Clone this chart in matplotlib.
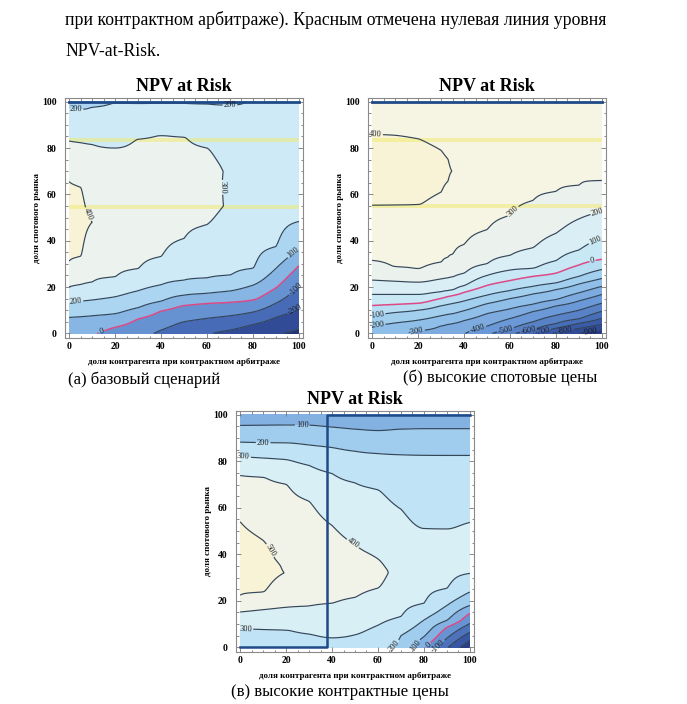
import matplotlib

matplotlib.use("Agg")
import matplotlib.pyplot as plt
import numpy as np
from matplotlib.colors import LinearSegmentedColormap, Normalize
from matplotlib.ticker import MultipleLocator

plt.rcParams["font.family"] = ["Liberation Serif", "DejaVu Serif"]

TEXT_LINE1 = "при контрактном арбитраже). Красным отмечена нулевая линия уровня"
TEXT_LINE2 = "NPV-at-Risk."
TITLE = "NPV at Risk"
XLABEL = "доля контрагента при контрактном арбитраже"
YLABEL = "доля спотового рынка"
CAPTIONS = ["(а) базовый сценарий", "(б) высокие спотовые цены",
            "(в) высокие контрактные цены"]
TICKS = [0, 20, 40, 60, 80, 100]

# NPV-at-Risk, column by column: for each x a list of (y, npv)
a_x = [0, 5, 10, 20, 30, 40, 50, 60, 70, 80, 90, 100]
a_cols = [
    [(0, 15), (6.9, 100), (13.4, 200), (20.1, 300), (31.2, 400), (48, 445), (65.5, 400), (83, 300), (96.8, 200), (100, 150)],
    [(0, 10), (7.2, 100), (13.9, 200), (21.1, 300), (33.3, 400), (48, 425), (63, 400), (82.3, 300), (96.7, 200), (100, 155)],
    [(0, 6), (7.6, 100), (14.4, 200), (22.2, 300), (48, 400), (81.5, 300), (97.6, 200), (100, 160)],
    [(0, -40), (2.6, 0), (8.5, 100), (15.8, 200), (24.5, 300), (50, 370), (80, 300), (99.4, 200), (100, 185)],
    [(0, -70), (6.2, 0), (11.1, 100), (18.4, 200), (28, 300), (55, 360), (83.8, 300), (100, 195)],
    [(0, -115), (1.4, -100), (9.6, 0), (13.9, 100), (21, 200), (33.2, 300), (60, 350), (85.4, 300), (100, 195)],
    [(0, -160), (5, -100), (12, 0), (16.5, 100), (23, 200), (41, 300), (62, 330), (84.7, 300), (100, 195)],
    [(0, -190), (6.5, -100), (12.9, 0), (17.3, 100), (24, 200), (47, 300), (55, 318), (72, 318), (80, 300), (99, 200), (100, 180)],
    [(0, -230), (1.4, -200), (7.6, -100), (13.4, 0), (18.3, 100), (25.2, 200), (55, 290), (70, 290), (98.5, 200), (100, 185)],
    [(0, -260), (3.8, -200), (9.2, -100), (14.4, 0), (20.8, 100), (28.1, 200), (65, 270), (100, 205)],
    [(0, -290), (6.9, -200), (13, -100), (19.6, 0), (28, 100), (37.5, 200), (70, 260), (100, 210)],
    [(0, -320), (11, -200), (20.6, -100), (29.2, 0), (36.4, 100), (48.3, 200), (75, 250), (100, 210)],
]
a_levels = [-400, -300, -200, -100, 0, 100, 200, 300, 400, 500]

b_x = [0, 10, 20, 30, 33, 35, 40, 50, 60, 70, 80, 90, 100]
b_cols = [
    [(0, -270), (3.2, -200), (7.8, -100), (12, 0), (16.8, 100), (23, 200), (31.5, 300), (55.3, 400), (70, 440), (86, 400), (100, 360)],
    [(0, -285), (4.5, -200), (9, -100), (12.5, 0), (16.8, 100), (22.5, 200), (28.8, 300), (55.4, 400), (70, 435), (85.5, 400), (100, 360)],
    [(0, -310), (1.05, -300), (5.7, -200), (10, -100), (13, 0), (16.8, 100), (22.1, 200), (28, 300), (55.6, 400), (70, 425), (84, 400), (100, 355)],
    [(0, -330), (3.2, -300), (7.6, -200), (11.9, -100), (15.1, 0), (18, 100), (23.5, 200), (30.8, 300), (61, 400), (70, 412), (79, 400), (100, 352)],
    [(0, -342), (3.9, -300), (8.2, -200), (12.5, -100), (15.9, 0), (18.5, 100), (24, 200), (32.9, 300), (65.7, 400), (70, 405), (75.2, 400), (100, 351)],
    [(0, -350), (4.2, -300), (8.5, -200), (12.9, -100), (16.3, 0), (18.8, 100), (24.4, 200), (34.2, 300), (70, 399), (100, 350)],
    [(0, -395), (5.5, -300), (9.8, -200), (14, -100), (17.7, 0), (20.6, 100), (26, 200), (38.4, 300), (70, 385), (100, 348)],
    [(0, -480), (3.1, -400), (8.5, -300), (12.8, -200), (16.5, -100), (20.7, 0), (25, 100), (30.1, 200), (44.8, 300), (75, 370), (100, 345)],
    [(0, -570), (1.9, -500), (6.4, -400), (10.6, -300), (15, -200), (18.5, -100), (22.8, 0), (27.3, 100), (33.7, 200), (51, 300), (80, 355), (100, 340)],
    [(0, -700), (1.5, -600), (5, -500), (9.4, -400), (12.6, -300), (17, -200), (20.3, -100), (24.6, 0), (28.1, 100), (37, 200), (57.4, 300), (85, 345), (100, 335)],
    [(0, -815), (2.2, -700), (4.2, -600), (7.8, -500), (11.8, -400), (14.6, -300), (18.9, -200), (21.8, -100), (26, 0), (31.4, 100), (43.2, 200), (61.3, 300), (90, 340), (100, 332)],
    [(0, -900), (2.1, -800), (4.3, -700), (6.3, -600), (10, -500), (14, -400), (17.5, -300), (21.3, -200), (24.6, -100), (29.5, 0), (36, 100), (49.4, 200), (64, 300), (100, 330)],
    [(0, -990), (1.5, -900), (3.9, -800), (6.5, -700), (9.5, -600), (13, -500), (16.8, -400), (20.3, -300), (23.7, -200), (27.6, -100), (32, 0), (41.2, 100), (52.7, 200), (66, 300), (100, 330)],
]
b_levels = [-1000, -900, -800, -700, -600, -500, -400, -300, -200, -100, 0, 100, 200, 300, 400, 500]

c_x = [0, 10, 20, 30, 40, 50, 60, 70, 80, 90, 100]
c_cols = [
    [(0, 250), (8, 300), (15.2, 400), (22.4, 500), (38, 540), (54, 500), (73.9, 400), (82, 300), (88.2, 200), (95.4, 100), (100, 35)],
    [(0, 260), (7.7, 300), (16.2, 400), (23.8, 500), (35, 530), (46, 500), (73.1, 400), (81.4, 300), (88, 200), (95.5, 100), (100, 35)],
    [(0, 265), (7.4, 300), (17.2, 400), (32, 497), (70.1, 400), (80.7, 300), (87.9, 200), (95.6, 100), (100, 35)],
    [(0, 270), (5.7, 300), (17.8, 400), (38, 470), (62.8, 400), (78.2, 300), (87, 200), (95.5, 100), (100, 35)],
    [(0, 280), (4.1, 300), (19, 400), (36, 450), (52.4, 400), (74.7, 300), (85.9, 200), (94.7, 100), (100, 35)],
    [(0, 272), (5.4, 300), (21.5, 400), (33, 430), (44.1, 400), (70.7, 300), (84.3, 200), (93.8, 100), (100, 35)],
    [(0, 225), (9.5, 300), (25.5, 400), (32, 420), (38, 400), (67.7, 300), (83.3, 200), (93.2, 100), (100, 35)],
    [(0, 180), (5, 200), (13.3, 300), (33, 370), (59.4, 300), (82.8, 200), (93.8, 100), (100, 35)],
    [(0, 15), (4.6, 100), (11.7, 200), (19, 300), (36, 345), (51.1, 300), (82.6, 200), (94, 100), (100, 35)],
    [(0, -190), (3.9, -100), (8.6, 0), (11.6, 100), (18, 200), (25.4, 300), (40, 340), (50.9, 300), (82.5, 200), (94, 100), (100, 35)],
    [(0, -380), (3, -300), (6.5, -200), (10.3, -100), (14.6, 0), (18, 100), (23.8, 200), (31.8, 300), (42, 345), (53.7, 300), (82.5, 200), (94, 100), (100, 35)],
]
c_levels = [-400, -300, -200, -100, 0, 100, 200, 300, 400, 500, 600]

# contour label spots (x, y) as printed on the scans
a_labels = [(3, 96.9), (70, 98.4), (63.5, 63), (9.8, 52), (3, 13.6), (14, 0.8),
            (97, 35.5), (98, 19.5), (98, 10.5)]
b_labels = [(1.5, 86), (62, 52), (98, 52.5), (97, 40.5), (96, 31), (2, 8), (2, 3.4),
            (19, 1.3), (46, 1.7), (58, 1.7), (68, 1.4), (74, 1.2), (84, 1), (95, 1)]
c_labels = [(27, 95.7), (10, 88), (1.5, 82), (49, 44.5), (12, 41), (2.5, 8),
            (66, 1.8), (76, 1), (82, 1), (86, 0.8)]

# yellow marker streaks on the scan (y of each streak)
a_streaks = [83.6, 54.5]
b_streaks = [83.4, 54.9]
# blue break line in panel (в): x where it jumps
c_break = 38

cmap = LinearSegmentedColormap.from_list("mma", [
    (0.0, "#22337a"), (0.2, "#3d5fae"), (0.4, "#6f9dd9"), (0.55, "#97c6ec"),
    (0.68, "#bfe3f5"), (0.78, "#d6eef7"), (0.86, "#eaf2ef"), (0.92, "#f5f4e4"),
    (1.0, "#f8f3d6")])


def pchip(xk, yk, xf):
    xk = np.asarray(xk, float)
    yk = np.asarray(yk, float)
    h = np.diff(xk)
    d = np.diff(yk, axis=0) / h[:, None]
    m = np.zeros_like(yk)
    m[0], m[-1] = d[0], d[-1]
    for k in range(1, len(xk) - 1):
        a, b = d[k - 1], d[k]
        w1, w2 = 2 * h[k] + h[k - 1], h[k] + 2 * h[k - 1]
        with np.errstate(divide="ignore", invalid="ignore"):
            hm = (w1 + w2) / (w1 / a + w2 / b)
        m[k] = np.where(a * b > 0, hm, 0.0)
    i = np.clip(np.searchsorted(xk, xf, side="right") - 1, 0, len(xk) - 2)
    t = ((xf - xk[i]) / h[i])[:, None]
    hh = h[i][:, None]
    return ((2 * t**3 - 3 * t**2 + 1) * yk[i] + (t**3 - 2 * t**2 + t) * hh * m[i]
            + (-2 * t**3 + 3 * t**2) * yk[i + 1] + (t**3 - t**2) * hh * m[i + 1])


def surface(xs, cols):
    yf = np.linspace(0, 100, 401)
    xf = np.linspace(0, 100, 301)
    zc = np.array([np.interp(yf, [p[0] for p in c], [p[1] for p in c]) for c in cols])
    return xf, yf, pchip(xs, zc, xf).T


def panel(ax, xs, cols, levels, labels, streaks=()):
    xf, yf, z = surface(xs, cols)
    norm = Normalize(z.min() - 20, z.max() + 10)
    ax.contourf(xf, yf, z, levels=levels, cmap=cmap, norm=norm)
    for y in streaks:
        ax.fill_between([0, 100], y - 0.9, y + 0.9, color="#f2ea6a", alpha=0.5, lw=0)
    inner = levels[1:-1]
    colors = ["#dc4a86" if v == 0 else "#34465a" for v in inner]
    widths = [1.1 if v == 0 else 0.85 for v in inner]
    cs = ax.contour(xf, yf, z, levels=inner, colors=colors, linewidths=widths)
    ax.set_xlim(-1.8, 101.8)
    ax.set_ylim(-2.0, 101.6)
    ax.clabel(cs, fmt="%d", fontsize=6, manual=labels, inline=True, inline_spacing=1,
              colors="#1e1e1e")


fig = plt.figure(figsize=(6.87, 7.04), dpi=100)
fig.patch.set_facecolor("white")

fig.text(65 / 687, 1 - 20 / 704, TEXT_LINE1, fontsize=12.8, va="center", ha="left")
fig.text(65 / 687, 1 - 52 / 704, TEXT_LINE2, fontsize=12.8, va="center", ha="left")

ax_a = fig.add_axes([65 / 687, 1 - 338 / 704, 238 / 687, 240 / 704])
ax_b = fig.add_axes([368 / 687, 1 - 338 / 704, 238 / 687, 240 / 704])
ax_c = fig.add_axes([236 / 687, 1 - 652 / 704, 238 / 687, 241 / 704])

panel(ax_a, a_x, a_cols, a_levels, a_labels, a_streaks)
panel(ax_b, b_x, b_cols, b_levels, b_labels, b_streaks)
panel(ax_c, c_x, c_cols, c_levels, c_labels)

edge = "#1f4a88"
ax_a.plot([0, 100], [100, 100], color=edge, lw=2.0)
ax_b.plot([0, 100], [100, 100], color=edge, lw=2.0)
ax_c.plot([0, c_break, c_break, 100], [0, 0, 100, 100], color=edge, lw=1.8)

for ax in (ax_a, ax_b, ax_c):
    ax.set_facecolor("white")
    ax.set_xticks(TICKS, [str(t) for t in TICKS], fontweight="bold", fontsize=7)
    ax.set_yticks(TICKS, [str(t) for t in TICKS], fontweight="bold", fontsize=7)
    ax.xaxis.set_minor_locator(MultipleLocator(5))
    ax.yaxis.set_minor_locator(MultipleLocator(5))
    ax.tick_params(which="both", direction="in", top=True, right=True,
                   color="#777777", width=0.6)
    ax.tick_params(which="major", length=3.5)
    ax.tick_params(which="minor", length=1.8)
    ax.tick_params(axis="x", pad=3)
    ax.tick_params(axis="y", pad=6)
    for s in ax.spines.values():
        s.set_color("#8a8a8a")
        s.set_linewidth(0.8)
    ax.set_title(TITLE, fontsize=13, fontweight="bold", pad=5)
    ax.set_xlabel(XLABEL, fontsize=6.5, fontweight="bold")
    ax.set_ylabel(YLABEL, fontsize=6.5, fontweight="bold")
    ax.xaxis.set_label_coords(0.5, -0.1)
    ax.yaxis.set_label_coords(-0.118, 0.5)
    ax.xaxis.label.set_va("center")
    ax.yaxis.label.set_va("center")

fig.text(144 / 687, 1 - 380 / 704, CAPTIONS[0], fontsize=12, ha="center", va="center")
fig.text(500 / 687, 1 - 378 / 704, CAPTIONS[1], fontsize=12, ha="center", va="center")
fig.text(340 / 687, 1 - 692 / 704, CAPTIONS[2], fontsize=12, ha="center", va="center")

fig.savefig("out.png", dpi=100, facecolor="white")
